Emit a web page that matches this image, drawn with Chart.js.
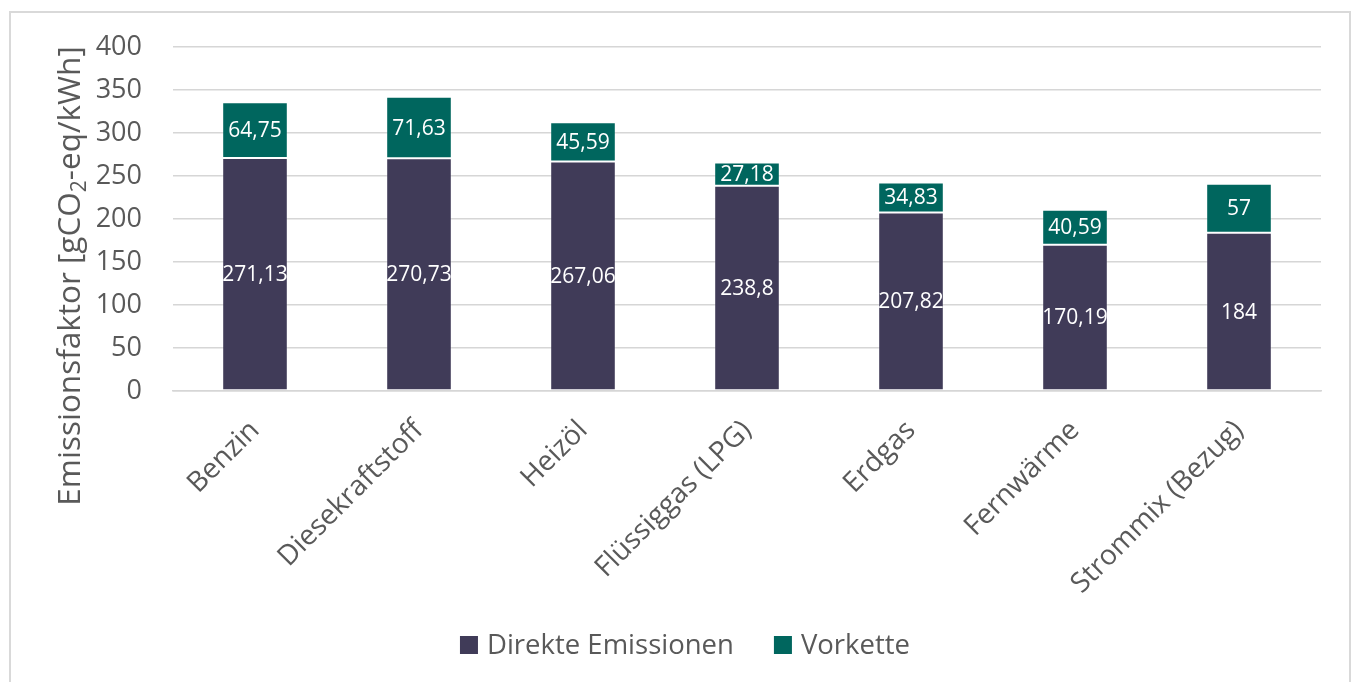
<!DOCTYPE html>
<html>
<head>
<meta charset="utf-8">
<script src="https://cdn.jsdelivr.net/npm/chart.js@4/dist/chart.umd.min.js"></script>
<style>
  html, body { margin: 0; padding: 0; background: #ffffff; }
  #wrap { width: 1355px; height: 682px; position: relative; }
</style>
</head>
<body>
<div id="wrap"><canvas id="chart"></canvas></div>
<script>
// Emission factors per energy carrier, gCO2-eq/kWh
const categories = ['Benzin', 'Diesekraftstoff', 'Heizöl', 'Flüssiggas (LPG)', 'Erdgas', 'Fernwärme', 'Strommix (Bezug)'];
const direkteEmissionen = [271.13, 270.73, 267.06, 238.8, 207.82, 170.19, 184];
const vorkette = [64.75, 71.63, 45.59, 27.18, 34.83, 40.59, 57];
const yMin = 0;
const yMax = 400;
const yStep = 50;

const FONT = '"Open Sans", Lato, sans-serif';
const TEXT_GRAY = '#595959';
const GRID_GRAY = '#d6d6d6';

const fmt = v => String(v).replace('.', ',');

// Frame around the whole chart
const framePlugin = {
  id: 'frame',
  beforeDraw(chart) {
    const ctx = chart.ctx;
    ctx.save();
    ctx.fillStyle = '#ffffff';
    ctx.fillRect(0, 0, chart.width, chart.height);
    ctx.strokeStyle = '#d9d9d9';
    ctx.lineWidth = 2;
    ctx.strokeRect(10, 12, 1340, 700);
    ctx.restore();
  }
};

// Value labels centred inside each stacked segment
const segmentLabels = {
  id: 'segmentLabels',
  afterDatasetsDraw(chart) {
    const ctx = chart.ctx;
    ctx.save();
    ctx.font = '21px ' + FONT;
    ctx.fillStyle = '#ffffff';
    ctx.textAlign = 'center';
    ctx.textBaseline = 'middle';
    chart.data.datasets.forEach((ds, di) => {
      const meta = chart.getDatasetMeta(di);
      meta.data.forEach((el, i) => {
        const cy = (el.y + el.base) / 2;
        ctx.fillText(fmt(ds.data[i]), el.x, cy + 1);
      });
    });
    ctx.restore();
  }
};

// Vertical axis title with subscript "2"
const yTitle = {
  id: 'yTitle',
  afterDraw(chart) {
    const ctx = chart.ctx;
    const big = '31.5px ' + FONT;
    const small = '21px ' + FONT;
    const parts = [
      { t: 'Emissionsfaktor [gCO', f: big, dy: 0 },
      { t: '2', f: small, dy: 9 },
      { t: '-eq/kWh]', f: big, dy: 0 }
    ];
    ctx.save();
    let total = 0;
    parts.forEach(p => { ctx.font = p.f; p.w = ctx.measureText(p.t).width; total += p.w; });
    ctx.translate(71, 276);
    ctx.rotate(-Math.PI / 2);
    ctx.fillStyle = TEXT_GRAY;
    ctx.textBaseline = 'middle';
    ctx.textAlign = 'left';
    let x = -total / 2;
    parts.forEach(p => {
      ctx.font = p.f;
      ctx.fillText(p.t, x, p.dy);
      x += p.w;
    });
    ctx.restore();
  }
};

// Legend row below the category labels, built from the datasets
const legendRow = {
  id: 'legendRow',
  afterDraw(chart) {
    const ctx = chart.ctx;
    const box = 18, gapText = 9, gapItem = 40, cy = 645, cx = 685;
    ctx.save();
    ctx.font = '27.5px ' + FONT;
    const items = chart.data.datasets.map(ds => ({
      text: ds.label, color: ds.backgroundColor, w: ctx.measureText(ds.label).width
    }));
    let total = 0;
    items.forEach((it, i) => { total += box + gapText + it.w + (i ? gapItem : 0); });
    let x = cx - total / 2;
    ctx.textBaseline = 'middle';
    ctx.textAlign = 'left';
    items.forEach(it => {
      ctx.fillStyle = it.color;
      ctx.fillRect(x, cy - box / 2, box, box);
      x += box + gapText;
      ctx.fillStyle = TEXT_GRAY;
      ctx.fillText(it.text, x, cy + 1);
      x += it.w + gapItem;
    });
    ctx.restore();
  }
};

new Chart(document.getElementById('chart'), {
  type: 'bar',
  data: {
    labels: categories,
    datasets: [
      {
        label: 'Direkte Emissionen',
        data: direkteEmissionen,
        backgroundColor: '#403b58',
        borderColor: 'rgba(255,255,255,0.2)',
        borderWidth: 1,
        borderSkipped: false,
        barPercentage: 0.4,
        categoryPercentage: 1
      },
      {
        label: 'Vorkette',
        data: vorkette,
        backgroundColor: '#00665e',
        borderColor: 'rgba(255,255,255,0.2)',
        borderWidth: 1,
        borderSkipped: false,
        barPercentage: 0.4,
        categoryPercentage: 1
      }
    ]
  },
  options: {
    responsive: true,
    maintainAspectRatio: false,
    animation: false,
    layout: { padding: { left: 10, top: 44, right: 34, bottom: 0 } },
    plugins: {
      legend: { display: false },
      tooltip: { enabled: false }
    },
    scales: {
      x: {
        stacked: true,
        grid: { display: false },
        border: { display: true, color: GRID_GRAY, width: 1.5 },
        ticks: {
          font: { family: FONT, size: 28 },
          color: TEXT_GRAY,
          minRotation: 45,
          maxRotation: 45,
          padding: 15
        },
        afterFit(scale) { scale.height = 291; }
      },
      y: {
        stacked: true,
        min: yMin,
        max: yMax,
        grid: { color: GRID_GRAY, lineWidth: 1.5, drawTicks: false },
        border: { display: false },
        ticks: {
          stepSize: yStep,
          font: { family: FONT, size: 27 },
          color: TEXT_GRAY,
          padding: 31
        },
        afterFit(scale) { scale.width = 163; }
      }
    }
  },
  plugins: [framePlugin, segmentLabels, yTitle, legendRow]
});
</script>
</body>
</html>
